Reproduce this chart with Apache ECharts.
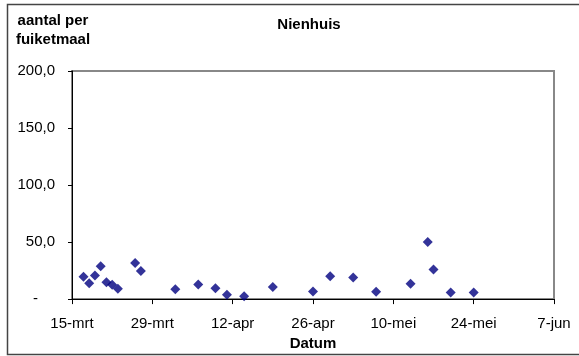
<!DOCTYPE html>
<html>
<head>
<meta charset="utf-8">
<script src="https://cdn.jsdelivr.net/npm/echarts@6/dist/echarts.min.js"></script>
<style>
html,body{margin:0;padding:0;background:#fff;}
#c{width:579px;height:356px;}
</style>
</head>
<body>
<div id="c"></div>
<script>
// days after 15-mrt
const dayOffsets = [2, 3, 4, 5, 6, 7, 8, 11, 12, 18, 22, 25, 27, 30, 35, 42, 45, 49, 53, 59, 62, 63, 66, 70];
const counts = [19.7, 14.0, 20.6, 28.8, 14.8, 12.5, 9.0, 31.7, 24.7, 8.7, 12.8, 9.6, 3.8, 2.6, 10.5, 6.6, 20.1, 18.9, 6.4, 13.4, 50.0, 25.9, 5.8, 5.8];
const xTickLabels = ['15-mrt', '29-mrt', '12-apr', '26-apr', '10-mei', '24-mei', '7-jun'];
const yTickLabels = ['-', '50,0', '100,0', '150,0', '200,0'];

const chart = echarts.init(document.getElementById('c'), null, {renderer: 'canvas'});
const font = 'Liberation Sans, Arial, sans-serif';
chart.setOption({
  animation: false,
  backgroundColor: '#fff',
  graphic: [
    {type: 'rect', shape: {x: 7.5, y: 4.5, width: 600, height: 350}, style: {fill: null, stroke: '#444', lineWidth: 1.5}, silent: true},
    {type: 'text', x: 53, y: 11, style: {text: 'aantal per\nfuiketmaal', fontFamily: font, fontSize: 15, fontWeight: 'bold', fill: '#000', align: 'center', verticalAlign: 'top', lineHeight: 19}},
    {type: 'text', x: 309, y: 17, style: {text: 'Nienhuis', fontFamily: font, fontSize: 15, fontWeight: 'bold', fill: '#000', align: 'center', verticalAlign: 'top'}}
  ],
  grid: {left: 72, right: 25, top: 71, bottom: 56, show: true, borderColor: '#888', borderWidth: 2, backgroundColor: 'transparent'},
  xAxis: {
    type: 'value', min: 0, max: 84, interval: 14,
    name: 'Datum', nameLocation: 'middle', nameGap: 36,
    nameTextStyle: {fontFamily: font, fontSize: 15, fontWeight: 'bold', color: '#000'},
    axisLine: {show: true, lineStyle: {color: '#000', width: 1}},
    axisTick: {show: true, inside: false, length: 5, lineStyle: {color: '#000'}},
    axisLabel: {margin: 17, fontFamily: font, fontSize: 15, color: '#000',
      formatter: v => xTickLabels[Math.round(v / 14)] || ''},
    splitLine: {show: false}
  },
  yAxis: {
    type: 'value', min: 0, max: 200, interval: 50,
    axisLine: {show: true, lineStyle: {color: '#000', width: 1}},
    axisTick: {show: true, inside: false, length: 4, lineStyle: {color: '#000'}},
    axisLabel: {margin: 17, fontFamily: font, fontSize: 15, color: '#000',
      formatter: v => {
        const s = yTickLabels[Math.round(v / 50)];
        return v === 0 ? '{d|' + s + '}' : s;
      },
      rich: {d: {fontFamily: font, fontSize: 15, color: '#000', padding: [0, 17, 0, 0]}}
    },
    splitLine: {show: false}
  },
  series: [{
    type: 'scatter',
    symbol: 'diamond',
    symbolSize: [10, 10],
    itemStyle: {color: '#000080'},
    data: dayOffsets.map((d, i) => [d, counts[i]])
  }]
});
</script>
</body>
</html>
